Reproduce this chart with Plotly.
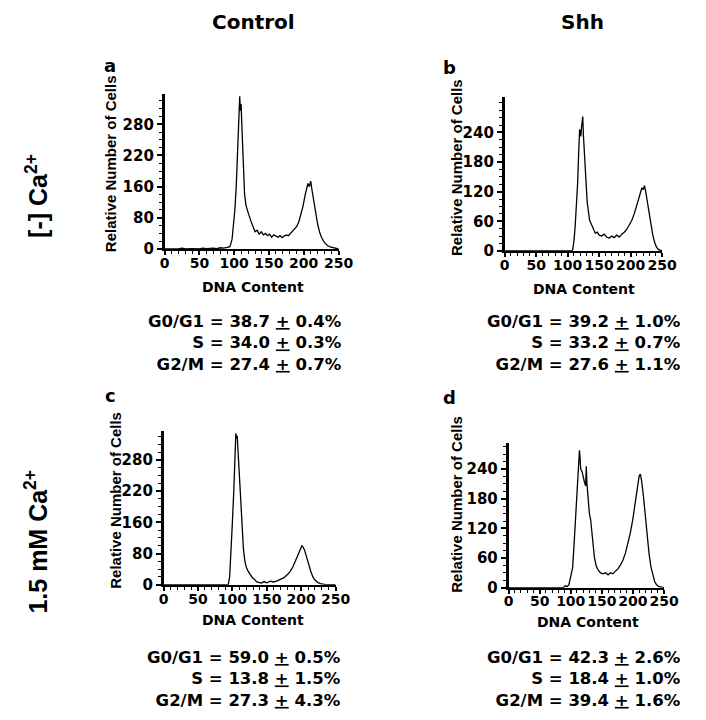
"""
Cell-cycle DNA content histograms: Control vs Shh, with and without Ca2+.
"""

import plotly.graph_objects as go

# ---- data (DNA content channel vs relative number of cells) ----
dna_a = [0, 10, 20, 25, 30, 40, 50, 55, 60, 70, 75, 80, 85, 90, 94, 97, 99, 101, 103, 105,
         107, 108, 109, 110, 111, 112, 113, 115, 117, 119, 121, 124, 127, 130, 133, 136, 139,
         142, 145, 148, 151, 154, 157, 160, 163, 166, 169, 172, 175, 178, 181, 184, 187, 190,
         193, 196, 199, 202, 204, 206, 208, 210, 212, 214, 217, 220, 223, 226, 230, 234, 238,
         242, 246, 250]
cells_a = [0, 0, 0, 2, 0, 1, 0, 2, 1, 2, 1, 3, 2, 4, 6, 25, 60, 100, 160, 240,
           350, 392, 355, 372, 320, 280, 200, 140, 112, 98, 88, 72, 56, 44, 48, 38, 44,
           36, 40, 34, 38, 30, 36, 33, 30, 34, 29, 33, 36, 34, 40, 44, 50, 58,
           70, 88, 110, 138, 155, 168, 160, 174, 150, 128, 96, 64, 42, 28, 16, 9, 5,
           3, 1, 0]

dna_b = [0, 15, 30, 45, 60, 75, 90, 100, 106, 108, 110, 112, 114, 116, 117, 118, 119, 120,
         121, 122, 123, 124, 125, 127, 129, 131, 133, 135, 137, 139, 141, 144, 147, 150, 154,
         158, 162, 166, 170, 174, 178, 182, 186, 190, 194, 198, 202, 206, 209, 212, 215, 218,
         220, 222, 224, 226, 229, 232, 235, 238, 241, 244, 247, 250]
cells_b = [0, 0, 0, 0, 0, 0, 0, 0, 0, 2, 20, 50, 90, 140, 180, 220, 246, 240,
           232, 250, 262, 272, 236, 190, 140, 100, 80, 62, 56, 50, 42, 36, 38, 32, 30,
           34, 28, 26, 30, 27, 32, 28, 34, 38, 44, 52, 62, 76, 88, 104, 116, 128,
           124, 132, 120, 104, 80, 56, 34, 18, 8, 3, 1, 0]

dna_c = [0, 20, 40, 60, 80, 90, 94, 96, 98, 100, 102, 104, 105, 106, 107, 108, 110, 112,
         114, 116, 118, 120, 123, 126, 129, 132, 135, 138, 142, 146, 150, 155, 160, 165, 170,
         175, 180, 184, 188, 191, 194, 197, 199, 201, 203, 205, 208, 211, 214, 217, 220, 224,
         228, 234, 240, 250]
cells_c = [0, 0, 0, 0, 0, 0, 1, 20, 82, 160, 240, 340, 388, 375, 382, 350, 285, 200,
           132, 92, 62, 46, 34, 26, 18, 14, 8, 6, 4, 8, 5, 9, 7, 10, 14,
           18, 26, 34, 46, 58, 72, 86, 94, 100, 96, 88, 70, 50, 34, 20, 12, 6,
           3, 1, 0, 0]

dna_d = [0, 20, 40, 60, 80, 88, 91, 94, 97, 100, 103, 105, 107, 109, 111, 113, 114, 115,
         116, 118, 120, 122, 124, 125, 126, 128, 130, 132, 134, 136, 138, 141, 144, 148, 152,
         156, 160, 164, 168, 172, 176, 180, 184, 188, 192, 196, 200, 203, 206, 208, 210, 212,
         214, 217, 220, 223, 226, 229, 232, 235, 238, 242, 246, 250]
cells_d = [0, 0, 0, 0, 0, 0, 4, 2, 6, 22, 40, 80, 120, 175, 215, 250, 278, 262,
           240, 236, 222, 214, 206, 246, 212, 180, 150, 138, 108, 86, 62, 44, 36, 30, 28,
           30, 26, 30, 28, 34, 38, 46, 56, 70, 90, 112, 140, 168, 196, 214, 226, 230,
           216, 184, 144, 104, 68, 42, 24, 12, 6, 2, 1, 0]

x_ticks = [0, 50, 100, 150, 200, 250]
# control panels: evenly spaced ticks carrying the printed labels
y_ticks_ctrl = [0, 80, 160, 240, 320]
y_labels_ctrl = ["0", "80", "160", "220", "280"]
y_ticks_shh = [0, 60, 120, 180, 240]
y_labels_shh = ["0", "60", "120", "180", "240"]

stats_a = ["G0/G1 = 38.7 <u>+</u> 0.4%", "S = 34.0 <u>+</u> 0.3%", "G2/M = 27.4 <u>+</u> 0.7%"]
stats_b = ["G0/G1 = 39.2 <u>+</u> 1.0%", "S = 33.2 <u>+</u> 0.7%", "G2/M = 27.6 <u>+</u> 1.1%"]
stats_c = ["G0/G1 = 59.0 <u>+</u> 0.5%", "S = 13.8 <u>+</u> 1.5%", "G2/M = 27.3 <u>+</u> 4.3%"]
stats_d = ["G0/G1 = 42.3 <u>+</u> 2.6%", "S = 18.4 <u>+</u> 1.0%", "G2/M = 39.4 <u>+</u> 1.6%"]

W, H = 706, 720
WIDE = "DejaVu Sans"
NARROW = "Liberation Sans, Arial"

# panel layout in pixels: plot box (x0, x1, y_top, y_bottom), y-title centre,
# "DNA Content" centre, right edge / centre of the percentage block
panels = [
    dict(dna=dna_a, cells=cells_a, box=(156, 335, 87, 244), ymax=398,
         tv=y_ticks_ctrl, tt=y_labels_ctrl, minor=20, stats=stats_a,
         ytitle=(100, 158), xtitle=(247, 283), stat_pos=(341, 339)),
    dict(dna=dna_b, cells=cells_b, box=(506, 668, 90, 246), ymax=312,
         tv=y_ticks_shh, tt=y_labels_shh, minor=15, stats=stats_b,
         ytitle=(457, 162), xtitle=(588, 285), stat_pos=(690, 339)),
    dict(dna=dna_c, cells=cells_c, box=(155, 332, 428, 584), ymax=395,
         tv=y_ticks_ctrl, tt=y_labels_ctrl, minor=20, stats=stats_c,
         ytitle=(106, 498), xtitle=(247, 620), stat_pos=(340, 679)),
    dict(dna=dna_d, cells=cells_d, box=(510, 670, 440, 587), ymax=294,
         tv=y_ticks_shh, tt=y_labels_shh, minor=15, stats=stats_d,
         ytitle=(457, 503), xtitle=(592, 622), stat_pos=(690, 679)),
]


def px(x):
    return x / W


def py(y):
    return 1 - y / H


tick_font = dict(family=WIDE, size=15, color="black", weight="bold")
xtick_font = dict(family=WIDE, size=14, color="black", weight="bold")

fig = go.Figure()
annotations = []

for i, p in enumerate(panels, start=1):
    sfx = "" if i == 1 else str(i)
    x0, x1, yt, yb = p["box"]
    fig.add_trace(go.Scatter(
        x=p["dna"], y=p["cells"], mode="lines",
        line=dict(color="black", width=1.3),
        xaxis="x" + sfx, yaxis="y" + sfx, showlegend=False,
    ))
    fig.update_layout(**{
        "xaxis" + sfx: dict(
            domain=[px(x0), px(x1)], anchor="y" + sfx, range=[0, 250],
            tickmode="array", tickvals=x_ticks, tickangle=0, ticklabelstandoff=-4,
            showline=True, linecolor="black", linewidth=2, showgrid=False, zeroline=False,
            ticks="outside", ticklen=4, tickwidth=1.5, tickcolor="black",
            minor=dict(ticks="outside", dtick=10, ticklen=3, tickwidth=1, tickcolor="black"),
            tickfont=xtick_font,
        ),
        "yaxis" + sfx: dict(
            domain=[py(yb), py(yt)], anchor="x" + sfx, range=[0, p["ymax"]],
            tickmode="array", tickvals=p["tv"], ticktext=p["tt"],
            showline=True, linecolor="black", linewidth=2.5, showgrid=False, zeroline=False,
            ticks="outside", ticklen=5, tickwidth=1.5, tickcolor="black",
            minor=dict(ticks="outside", dtick=p["minor"], ticklen=3, tickwidth=1,
                       tickcolor="black"),
            tickfont=tick_font,
        ),
    })

    tx, ty = p["ytitle"]
    annotations.append(dict(
        text="Relative Number of Cells", textangle=-90, x=px(tx), y=py(ty),
        xref="paper", yref="paper", xanchor="center", yanchor="middle", showarrow=False,
        font=dict(family=NARROW, size=15, color="black", weight="bold"),
    ))
    tx, ty = p["xtitle"]
    annotations.append(dict(
        text="DNA Content", x=px(tx), y=py(ty),
        xref="paper", yref="paper", xanchor="center", yanchor="middle", showarrow=False,
        font=dict(family=WIDE, size=14, color="black", weight="bold"),
    ))
    sx, sy = p["stat_pos"]
    annotations.append(dict(
        text="<br>".join(p["stats"]), align="right", x=px(sx), y=py(sy),
        xref="paper", yref="paper", xanchor="right", yanchor="middle", showarrow=False,
        font=dict(family=WIDE, size=16.5, color="black", weight="bold"),
    ))

# panel letters
for letter, lx, ly in [("a", 100, 58), ("b", 449, 60), ("c", 100, 392), ("d", 449, 394)]:
    annotations.append(dict(
        text=letter, x=px(lx), y=py(ly), xref="paper", yref="paper",
        xanchor="center", yanchor="middle", showarrow=False,
        font=dict(family=WIDE, size=18, color="black", weight="bold"),
    ))

# column and row headings
for txt, cx, cy in [("Control", 247, 14), ("Shh", 586, 14)]:
    annotations.append(dict(
        text=txt, x=px(cx), y=py(cy), xref="paper", yref="paper",
        xanchor="center", yanchor="middle", showarrow=False,
        font=dict(family=WIDE, size=20, color="black", weight="bold"),
    ))
for txt, cx, cy in [("[-] Ca<sup>2+</sup>", 24, 190), ("1.5 mM Ca<sup>2+</sup>", 24, 540)]:
    annotations.append(dict(
        text=txt, textangle=-90, x=px(cx), y=py(cy), xref="paper", yref="paper",
        xanchor="center", yanchor="middle", showarrow=False,
        font=dict(family=NARROW, size=25, color="black", weight="bold"),
    ))

fig.update_layout(
    width=W, height=H, autosize=False,
    margin=dict(l=0, r=0, t=0, b=0),
    plot_bgcolor="white", paper_bgcolor="white",
    showlegend=False,
    annotations=annotations,
)

fig.write_html("out.html")
